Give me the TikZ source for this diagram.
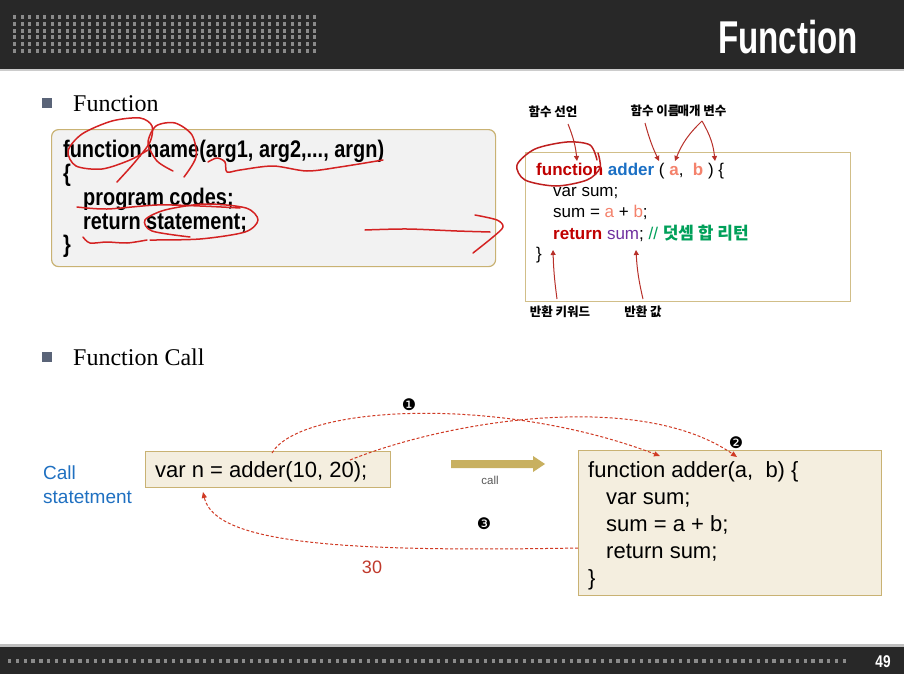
\documentclass[tikz,border=0pt]{standalone}
\usepackage{fontspec}
\setmainfont{Liberation Sans}
\newfontfamily\serifF{Liberation Serif}
\newfontfamily\kr{Noto Sans CJK KR}
\newfontfamily\dej{DejaVu Sans}
\usetikzlibrary{arrows.meta}
\definecolor{barc}{HTML}{282828}
\definecolor{dotc}{HTML}{8A8A8A}
\definecolor{bullc}{HTML}{5A6478}
\definecolor{goldc}{HTML}{C9B273}
\definecolor{boxgray}{HTML}{F2F2F2}
\definecolor{beige}{HTML}{F4EEDF}
\definecolor{kwred}{HTML}{C00000}
\definecolor{kwblue}{HTML}{1A6FC4}
\definecolor{salmon}{HTML}{F4826C}
\definecolor{purp}{HTML}{7030A0}
\definecolor{grn}{HTML}{00A05A}
\definecolor{anno}{HTML}{D42222}
\definecolor{lblred}{HTML}{B8302A}
\definecolor{dashred}{HTML}{D03A24}
\definecolor{goldarrow}{HTML}{C8B060}
\definecolor{callblue}{HTML}{1F70C1}
\definecolor{thirty}{HTML}{C0392B}
\tikzset{
  codeA/.style={anchor=base west, inner sep=0pt, xscale=0.83, font=\bfseries\fontsize{24}{28}\selectfont},
  codeB/.style={anchor=base west, inner sep=0pt, font=\fontsize{17}{20}\selectfont},
  codeC/.style={anchor=base west, inner sep=0pt, font=\fontsize{22}{26}\selectfont},
  annostroke/.style={draw=anno, line width=1.5pt, line cap=round, line join=round},
  lblarrow/.style={draw=lblred, line width=1pt, -{Triangle[length=5pt,width=5pt]}},
  lbltext/.style={inner sep=0pt, font=\kr\bfseries\fontsize{12.5}{14}\selectfont},
  dasharrow/.style={draw=dashred, line width=1pt, dash pattern=on 3pt off 2pt, -{Triangle[length=6pt,width=5pt]}},
  numbadge/.style={inner sep=0pt, font=\dej\fontsize{16}{16}\selectfont},
  panel/.style={draw=goldc, line width=1.2pt, anchor=north west, inner sep=0pt},
}
\begin{document}
\begin{tikzpicture}[x=1pt,y=-1pt]
\useasboundingbox (0,0) rectangle (904,674);
\fill[white] (0,0) rectangle (904,674);
% top bar
\fill[barc] (0,0) rectangle (904,69);
\fill[black!20] (0,69) rectangle (904,71);
\foreach \r in {0,...,5} \foreach \c in {0,...,40}
  \fill[dotc] ({13+\c*7.5},{15+\r*6.8}) rectangle +(3.4,4);
\node[anchor=east, inner sep=0pt, text=white, font=\bfseries\fontsize{46}{46}\selectfont, xscale=0.72] (title) at (858,37) {Function};
% bottom bar
\fill[black!25] (0,644) rectangle (904,647);
\fill[barc] (0,647) rectangle (904,674);
\foreach \c in {0,...,107}
  \fill[dotc] ({8+\c*7.8},659) rectangle +(3.4,4);
\node[inner sep=0pt, text=white, font=\bfseries\fontsize{17}{17}\selectfont, xscale=0.8] (pgno) at (883,662) {49};
% headings
\fill[bullc] (42,98) rectangle (52,108);
\node[anchor=base west, inner sep=0pt, font=\serifF\fontsize{24}{28}\selectfont] (h1) at (73,111) {Function};
\fill[bullc] (42,352) rectangle (52,362);
\node[anchor=base west, inner sep=0pt, font=\serifF\fontsize{24}{28}\selectfont] (h2) at (73,365) {Function Call};
% box 1
\node[panel, fill=boxgray, rounded corners=7pt, minimum width=444pt, minimum height=137pt] (box1) at (51,129) {};
\node[codeA] (l1) at (63,157) {function name(arg1, arg2,..., argn)};
\node[codeA] (l2) at (63,181) {\{};
\node[codeA] (l3) at (83,205) {program codes;};
\node[codeA] (l4) at (83,229) {return statement;};
\node[codeA] (l5) at (63,252) {\}};
% annotations box 1
\draw[annostroke] plot[smooth] coordinates {(117,182) (135,162) (150,142) (152,126) (140,118) (112,121) (82,134) (68,151) (76,166) (102,169) (130,160) (148,150)};
\draw[annostroke] plot[smooth] coordinates {(184,177) (196,157) (192,135) (175,123) (156,126) (148,143) (157,161) (173,171)};
\draw[annostroke] plot[smooth] coordinates {(208,162) (217,158) (225,162) (227,172) (240,170) (273,166) (307,171) (340,167) (383,160)};
\draw[annostroke] plot[smooth] coordinates {(77,207) (107,209) (157,205) (200,206) (240,208)};
\draw[annostroke] plot[smooth] coordinates {(150,240) (200,239) (245,232) (258,220) (246,208) (205,204) (165,210) (145,220) (152,231) (190,237)};
\draw[annostroke] plot[smooth] coordinates {(83,237) (90,243) (107,242) (127,243) (147,240)};
\draw[annostroke] plot[smooth] coordinates {(365,230) (407,229) (457,231) (490,232)};
\draw[annostroke] plot[smooth] coordinates {(475,215) (497,220) (503,227) (493,237) (473,253)};
% right box
\node[panel, draw=goldc!85, line width=1pt, fill=white, minimum width=325pt, minimum height=149pt] (box2) at (525,152) {};
\node[codeB] (r1) at (536,175) {\textcolor{kwred}{\bfseries function} \textcolor{kwblue}{\bfseries adder} ( \textcolor{salmon}{\bfseries a},\ \ \textcolor{salmon}{\bfseries b} ) \{};
\node[codeB] (r2) at (553,196) {var sum;};
\node[codeB] (r3) at (553,217) {sum = \textcolor{salmon}{a} + \textcolor{salmon}{b};};
\node[codeB] (r4) at (553,239) {\textcolor{kwred}{\bfseries return} \textcolor{purp}{sum}; \textcolor{grn}{// {\kr\bfseries\fontsize{17}{20}\selectfont 덧셈 합 리턴}}};
\node[codeB] (r5) at (536,259) {\}};
\draw[annostroke, draw=anno!90!black] plot[smooth] coordinates {(597,160) (590,145) (567,142) (535,149) (517,165) (525,180) (556,186) (587,180) (600,168) (598,153)};
% labels
\node[lbltext] (lb1) at (553,112) {함수 선언};
\node[lbltext] (lb2) at (655,111) {함수 이름};
\node[lbltext] (lb3) at (702,111) {매개 변수};
\node[lbltext] (lb4) at (560,312) {반환 키워드};
\node[lbltext] (lb5) at (643,312) {반환 값};
\coordinate (t1) at (577,161);
\coordinate (t2) at (659,161);
\coordinate (t3a) at (675,161);
\coordinate (t3b) at (715,161);
\coordinate (t4) at (553,250);
\coordinate (t5) at (636,250);
\draw[lblarrow] (568,124) to[bend left=8] (t1);
\draw[lblarrow] (645,123) to[bend right=5] (t2);
\draw[lblarrow] (702,121) to[bend right=12] (t3a);
\draw[lblarrow] (702,121) to[bend left=12] (t3b);
\draw[lblarrow] (557,299) to[bend left=3] (t4);
\draw[lblarrow] (643,299) to[bend left=5] (t5);
% call section
\node[anchor=base west, inner sep=0pt, text=callblue, font=\fontsize{19}{23}\selectfont] (callt) at (43,479) {Call};
\node[anchor=base west, inner sep=0pt, text=callblue, font=\fontsize{19}{23}\selectfont] (callt2) at (43,503) {statetment};
\node[panel, fill=beige, minimum width=245pt, minimum height=36pt] (vbox) at (145,451) {};
\node[codeC] (vtext) at (155,477) {var n = adder(10, 20);};
\fill[goldarrow] (451,460) -- (533,460) -- (533,456) -- (545,464) -- (533,472) -- (533,468) -- (451,468) -- cycle;
\node[inner sep=0pt, text=black!65, font=\fontsize{11.5}{13}\selectfont] (callw) at (490,480) {call};
\node[panel, fill=beige, minimum width=303pt, minimum height=145pt] (fbox) at (578,450) {};
\node[codeC] (f1) at (588,477) {function adder(a,\ \ b) \{};
\node[codeC] (f2) at (606,504) {var sum;};
\node[codeC] (f3) at (606,531) {sum = a + b;};
\node[codeC] (f4) at (606,558) {return sum;};
\node[codeC] (f5) at (588,585) {\}};
% dashed arrows
\coordinate (sA) at (272,453);
\coordinate (eA) at (660,456);
\coordinate (sB) at (350,460);
\coordinate (eB) at (737,457);
\coordinate (sC) at (578,548);
\coordinate (eC) at (203,492);
\draw[dasharrow] (sA) .. controls (300,405) and (500,395) .. (eA);
\draw[dasharrow] (sB) .. controls (450,420) and (640,390) .. (eB);
\draw[dasharrow] (sC) .. controls (350,552) and (215,545) .. (eC);
\node[numbadge] (n1) at (409,405) {❶};
\node[numbadge] (n2) at (736,443) {❷};
\node[numbadge] (n3) at (484,524) {❸};
\node[inner sep=0pt, text=thirty, font=\fontsize{18}{20}\selectfont] (v30) at (372,567) {30};
\end{tikzpicture}
\end{document}
